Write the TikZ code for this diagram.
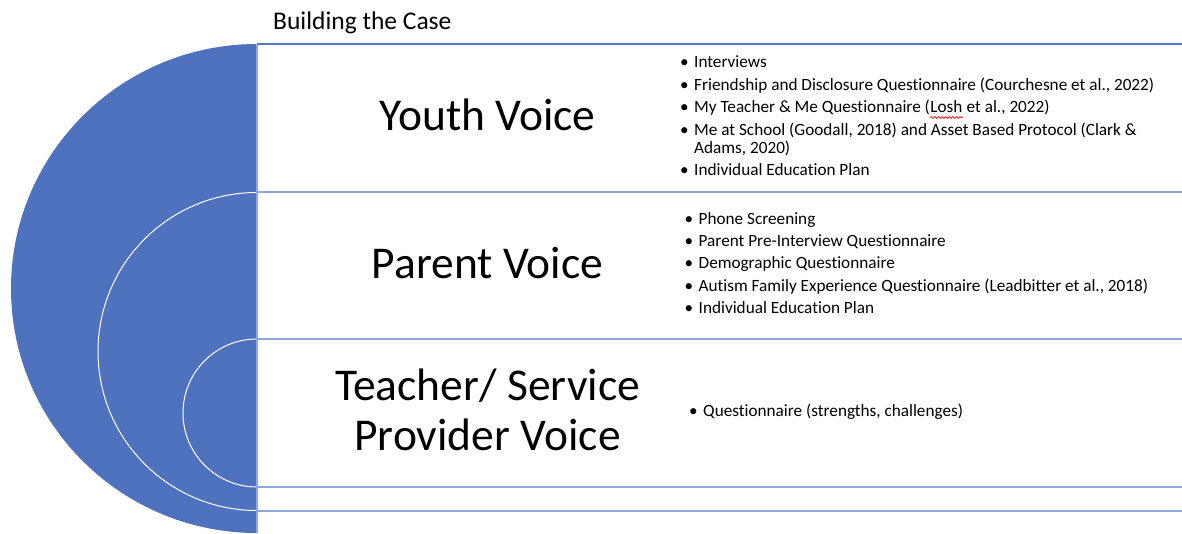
\documentclass[tikz,border=0pt]{standalone}
\usepackage{fontspec}
\setmainfont{Carlito}[Ligatures={NoCommon}]
\usetikzlibrary{decorations.pathmorphing}

\definecolor{fanblue}{RGB}{79,114,190}
\definecolor{rowrule}{RGB}{142,168,219}
\definecolor{headrule}{RGB}{84,120,202}

\tikzset{
  voice/.style={anchor=base, inner sep=0pt, font=\fontsize{45.5}{50}\selectfont},
  item/.style={anchor=base west, inner sep=0pt, font=\fontsize{17.2}{20}\selectfont},
  rowline/.style={draw=rowrule, line width=1.1pt},
  arcline/.style={draw=white, line width=1pt},
  spellmark/.style={draw=red, line width=0.7pt, decorate,
    decoration={snake, amplitude=0.9pt, segment length=3.6pt}},
}
\newcommand{\bul}{\llap{\textbullet\hspace{5.5pt}}}

\begin{document}
\begin{tikzpicture}[x=1pt, y=-1pt]
  \useasboundingbox (0,0) rectangle (1182,533);
  \fill[white] (0,0) rectangle (1182,533);

  % nested half-circle fan
  \begin{scope}
    \clip (0,0) rectangle (257,533);
    \fill[fanblue] (257,288.5) ellipse [x radius=246, y radius=244.5];
    \draw[arcline] (257,351.5) circle [radius=159];
    \draw[arcline] (257,413) circle [radius=74];
  \end{scope}

  % row rules
  \draw[draw=headrule, line width=1.1pt] (257,44) -- (1182,44);
  \draw[rowline] (257,192) -- (1182,192);
  \draw[rowline] (257,339) -- (1182,339);
  \draw[rowline] (257,487) -- (1182,487);
  \draw[rowline] (257,511) -- (1182,511);
  \draw[rowline] (257,44) -- (257,533);

  % title
  \node[anchor=base west, inner sep=0pt, font=\fontsize{25.5}{30}\selectfont]
    (title) at (273,29) {Building the Case};

  % voice labels
  \node[voice] (youth) at (487.5,130.5) {Youth Voice};
  \node[voice] (parent) at (487.5,278) {Parent Voice};
  \node[voice] (teacherA) at (487.5,400) {Teacher/ Service};
  \node[voice] (teacherB) at (487.5,450) {Provider Voice};

  % youth sources
  \node[item] (y1) at (694,67.5) {\bul Interviews};
  \node[item] (y2) at (694,90) {\bul Friendship and Disclosure Questionnaire (Courchesne et al., 2022)};
  \node[item] (y3) at (694,112.5) {\bul My Teacher \& Me Questionnaire (};
  \node[item] (losh) at (y3.base east) {Losh};
  \node[item] (y3b) at (losh.base east) {\ et al., 2022)};
  \draw[spellmark] ([yshift=-5pt]losh.base west) -- ([yshift=-5pt]losh.base east);
  \node[item] (y4) at (694,135) {\bul Me at School (Goodall, 2018) and Asset Based Protocol (Clark \&};
  \node[item] (y4b) at (694,153) {Adams, 2020)};
  \node[item] (y5) at (694,175.5) {\bul Individual Education Plan};

  % parent sources
  \node[item] (p1) at (698.5,224) {\bul Phone Screening};
  \node[item] (p2) at (698.5,246) {\bul Parent Pre-Interview Questionnaire};
  \node[item] (p3) at (698.5,268.5) {\bul Demographic Questionnaire};
  \node[item] (p4) at (698.5,291) {\bul Autism Family Experience Questionnaire (Leadbitter et al., 2018)};
  \node[item] (p5) at (698.5,313.5) {\bul Individual Education Plan};

  % teacher / service provider sources
  \node[item] (t1) at (703,416) {\bul Questionnaire (strengths, challenges)};
\end{tikzpicture}
\end{document}
